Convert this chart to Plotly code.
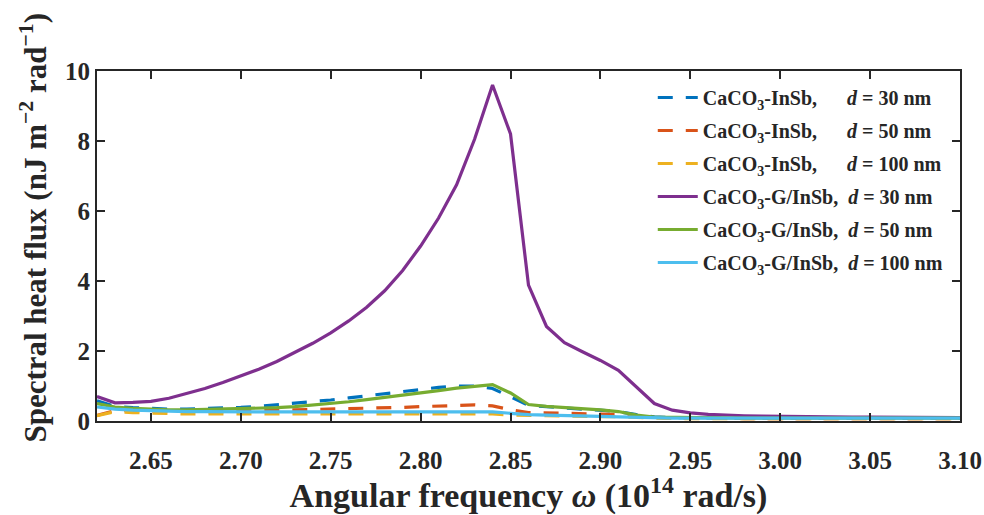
import plotly.graph_objects as go

# Angular frequency (10^14 rad/s)
omega = [2.62, 2.63, 2.64, 2.65, 2.66, 2.67, 2.68, 2.69, 2.70, 2.71,
         2.72, 2.73, 2.74, 2.75, 2.76, 2.77, 2.78, 2.79, 2.80, 2.81,
         2.82, 2.83, 2.84, 2.85, 2.86, 2.87, 2.88, 2.89, 2.90, 2.91,
         2.92, 2.93, 2.94, 2.95, 2.96, 2.97, 2.98, 2.99, 3.00, 3.01,
         3.02, 3.03, 3.04, 3.05, 3.06, 3.07, 3.08, 3.09, 3.10]

insb_30 = [0.58, 0.42, 0.38, 0.35, 0.34, 0.34, 0.35, 0.37, 0.39, 0.42,
           0.46, 0.50, 0.55, 0.60, 0.66, 0.72, 0.78, 0.85, 0.91, 0.96,
           1.00, 1.00, 0.93, 0.68, 0.45, 0.41, 0.38, 0.35, 0.32, 0.27,
           0.18, 0.12, 0.10, 0.09, 0.09, 0.08, 0.08, 0.08, 0.08, 0.08,
           0.08, 0.08, 0.08, 0.08, 0.08, 0.08, 0.08, 0.08, 0.08]

insb_50 = [0.16, 0.30, 0.29, 0.28, 0.27, 0.27, 0.27, 0.27, 0.28, 0.29,
           0.30, 0.31, 0.32, 0.33, 0.34, 0.35, 0.37, 0.39, 0.41, 0.43,
           0.45, 0.46, 0.43, 0.32, 0.24, 0.23, 0.23, 0.22, 0.21, 0.19,
           0.14, 0.10, 0.09, 0.08, 0.08, 0.08, 0.07, 0.07, 0.07, 0.07,
           0.07, 0.07, 0.07, 0.07, 0.07, 0.07, 0.07, 0.07, 0.07]

insb_100 = [0.15, 0.27, 0.24, 0.22, 0.21, 0.20, 0.20, 0.20, 0.20, 0.20,
            0.20, 0.20, 0.20, 0.20, 0.20, 0.20, 0.20, 0.20, 0.20, 0.20,
            0.20, 0.20, 0.20, 0.17, 0.15, 0.15, 0.14, 0.14, 0.13, 0.12,
            0.10, 0.08, 0.07, 0.07, 0.07, 0.07, 0.07, 0.07, 0.07, 0.07,
            0.07, 0.07, 0.07, 0.07, 0.07, 0.07, 0.07, 0.07, 0.07]

g_insb_30 = [0.70, 0.52, 0.53, 0.56, 0.65, 0.78, 0.93, 1.10, 1.28, 1.48,
             1.70, 1.95, 2.22, 2.52, 2.86, 3.25, 3.72, 4.30, 5.00, 5.80,
             6.75, 8.05, 9.60, 8.20, 3.88, 2.70, 2.24, 1.98, 1.73, 1.45,
             0.98, 0.50, 0.31, 0.23, 0.19, 0.16, 0.15, 0.14, 0.13, 0.13,
             0.12, 0.12, 0.11, 0.11, 0.11, 0.10, 0.10, 0.10, 0.10]

g_insb_50 = [0.50, 0.40, 0.36, 0.33, 0.32, 0.32, 0.33, 0.34, 0.35, 0.37,
             0.38, 0.41, 0.45, 0.50, 0.55, 0.61, 0.67, 0.73, 0.80, 0.87,
             0.94, 1.00, 1.04, 0.80, 0.47, 0.42, 0.39, 0.36, 0.32, 0.27,
             0.17, 0.11, 0.10, 0.09, 0.09, 0.08, 0.08, 0.08, 0.08, 0.08,
             0.08, 0.08, 0.08, 0.08, 0.08, 0.08, 0.08, 0.08, 0.08]

g_insb_100 = [0.40, 0.34, 0.31, 0.29, 0.28, 0.27, 0.27, 0.26, 0.26, 0.26,
              0.26, 0.26, 0.26, 0.26, 0.26, 0.26, 0.26, 0.26, 0.26, 0.26,
              0.26, 0.26, 0.26, 0.22, 0.18, 0.17, 0.15, 0.14, 0.13, 0.12,
              0.10, 0.09, 0.08, 0.08, 0.08, 0.08, 0.08, 0.08, 0.08, 0.08,
              0.08, 0.08, 0.08, 0.08, 0.08, 0.08, 0.08, 0.08, 0.08]

x_ticks = [2.65, 2.70, 2.75, 2.80, 2.85, 2.90, 2.95, 3.00, 3.05, 3.10]
y_ticks = [0, 2, 4, 6, 8, 10]

NB = "\u00a0"
names = [
    "CaCO<sub>3</sub>-InSb," + NB * 6 + "<i>d</i> = 30 nm",
    "CaCO<sub>3</sub>-InSb," + NB * 6 + "<i>d</i> = 50 nm",
    "CaCO<sub>3</sub>-InSb," + NB * 6 + "<i>d</i> = 100 nm",
    "CaCO<sub>3</sub>-G/InSb," + NB * 2 + "<i>d</i> = 30 nm",
    "CaCO<sub>3</sub>-G/InSb," + NB * 2 + "<i>d</i> = 50 nm",
    "CaCO<sub>3</sub>-G/InSb," + NB * 2 + "<i>d</i> = 100 nm",
]
series = [insb_30, insb_50, insb_100, g_insb_30, g_insb_50, g_insb_100]
colors = ["#0072BD", "#D95319", "#EDB120", "#7E2F8E", "#77AC30", "#4DBEEE"]
dashes = ["15px,13px", "15px,13px", "15px,13px", "solid", "solid", "solid"]

fig = go.Figure()
for i, (nm, ys, c, d) in enumerate(zip(names, series, colors, dashes)):
    fig.add_trace(go.Scatter(x=omega, y=ys, mode="lines", name=nm,
                             legendgroup=f"g{i}",
                             line=dict(color=c, width=3.2, dash=d)))

FONT = "Liberation Serif"
INK = "#262626"
axis_common = dict(showline=True, linecolor=INK, linewidth=2,
                   mirror="ticks", ticks="inside", ticklen=8, tickwidth=2,
                   tickcolor=INK, showgrid=False, zeroline=False,
                   automargin=False,
                   tickfont=dict(family=FONT, size=25, color=INK,
                                 weight="bold"))

fig.update_layout(
    width=984, height=515,
    margin=dict(l=97, r=24, t=71, b=94),
    paper_bgcolor="white", plot_bgcolor="white",
    xaxis=dict(range=[2.62, 3.10], tickvals=x_ticks, tickformat=".2f",
               ticklabelstandoff=16,
               title=dict(text="Angular frequency <i>ω</i> (10<sup>14</sup> rad/s)",
                          font=dict(family=FONT, size=34, color=INK,
                                    weight="bold"), standoff=5),
               **axis_common),
    yaxis=dict(range=[0, 10], tickvals=y_ticks, **axis_common),
    annotations=[dict(
        text="Spectral heat flux (nJ m<sup>−2</sup> rad<sup>−1</sup>)",
        xref="paper", yref="paper", x=-0.074, y=0.553,
        xanchor="center", yanchor="middle", textangle=-90, showarrow=False,
        font=dict(family=FONT, size=31, color=INK, weight="bold"))],
    legend=dict(x=0.644, y=0.98, xanchor="left", yanchor="top",
                bgcolor="rgba(0,0,0,0)", borderwidth=0,
                font=dict(family=FONT, size=20, color=INK, weight="bold"),
                itemwidth=40, tracegroupgap=4),
    showlegend=True,
)

fig.write_html("out.html")
